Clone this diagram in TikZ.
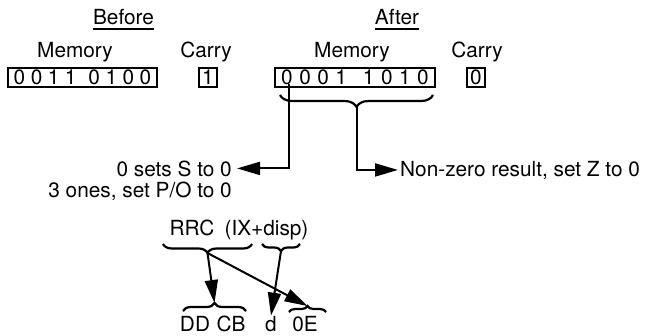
\documentclass[tikz,border=0pt]{standalone}
\usepackage{fontspec}
\setmainfont{TeX Gyre Heros}
\usetikzlibrary{arrows.meta,decorations.pathreplacing,calc}
\begin{document}
\begin{tikzpicture}[x=1pt,y=-1pt,
  txt/.style={inner sep=0pt, anchor=base, font=\fontsize{20.8}{24}\selectfont},
  box/.style={draw, line width=1.7pt, inner sep=0pt, minimum height=19.5pt, font=\fontsize{20.8}{24}\selectfont},
  arr/.style={line width=2pt, -{Triangle[length=23pt,width=13pt]}},
  brc/.style={line width=2.2pt, decorate, decoration={brace, amplitude=#1}},
  uline/.style={line width=1.4pt}
]
\useasboundingbox (0,0) rectangle (645,335);
% top headings
\node[txt] (before) at (123.5,24) {Before};
\draw[uline] ([yshift=-5pt]before.base west) -- ([yshift=-5pt]before.base east);
\node[txt] (mem1) at (75,57) {Memory};
\node[txt] (car1) at (206,57) {Carry};
\node[box, minimum width=149pt] (bm) at (82.5,77.5) {0\hspace{5.5pt}0\hspace{5.5pt}1\hspace{5.5pt}1\hspace{12pt}0\hspace{5.5pt}1\hspace{5.5pt}0\hspace{5.5pt}0};
\node[box, minimum width=18pt] (bc) at (208,77.5) {1};
\node[txt] (after) at (397,24) {After};
\draw[uline] ([yshift=-5pt]after.base west) -- ([yshift=-5pt]after.base east);
\node[txt] (mem2) at (352,57) {Memory};
\node[txt] (car2) at (477,57) {Carry};
\node[box, minimum width=160pt] (am) at (355,77.5) {0\hspace{6.5pt}0\hspace{6.5pt}0\hspace{6.5pt}1\hspace{16pt}1\hspace{6.5pt}0\hspace{6.5pt}1\hspace{6.5pt}0};
\node[box, minimum width=18pt] (ac) at (476,77.5) {0};
% brace under result
\draw[brc=12pt, decoration={mirror}] (280,95) -- (433,95);
\coordinate (t1) at (356.5,107);
\coordinate (msb) at (289,84);
\node[txt, anchor=base east] (sets) at (232,176) {0 sets S to 0};
\node[txt, anchor=base east] (ones) at (232,197) {3 ones, set P/O to 0};
\node[txt, anchor=base west] (nz) at (400,176) {Non-zero result, set Z to 0};
\draw[arr] (msb) |- ([xshift=5pt]sets.east);
\draw[arr] (t1) |- ([xshift=-2pt]nz.west);
% instruction encoding
\node[txt] (rrc) at (192,235) {RRC};
\node[txt] (ixd) at (266.5,235) {(IX+disp)};
\draw[brc=9pt, decoration={mirror}] (163,244) -- (252,244);
\coordinate (ta) at (207.5,253);
\draw[brc=7pt, decoration={mirror}] (262,244) -- (300,244);
\coordinate (tb) at (281,251);
\node[txt] (dd) at (195,331) {DD};
\node[txt] (cb) at (231,331) {CB};
\node[txt] (d) at (271,331) {d};
\node[txt] (oe) at (305,331) {0E};
\draw[brc=8pt] (183,311) -- (246,311);
\coordinate (tc) at (214.5,303);
\draw[brc=6pt] (289,312) -- (326,312);
\coordinate (td) at (307.5,306);
\draw[arr] (ta) -- (tc);
\draw[arr] (ta) -- (td);
\draw[arr] (tb) -- (d.north);
\end{tikzpicture}
\end{document}
